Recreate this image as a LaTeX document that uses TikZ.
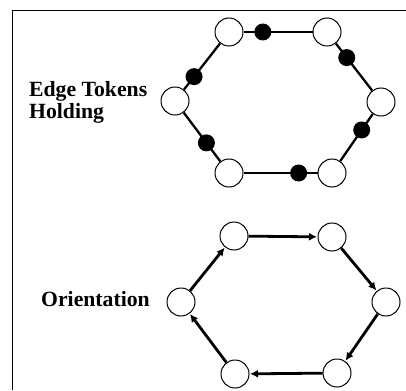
\documentclass[tikz,border=0pt]{standalone}
\usepackage{fontspec}
\setmainfont{Liberation Serif}
\usetikzlibrary{arrows.meta}
\begin{document}
\begin{tikzpicture}[x=1pt,y=-1pt,
  proc/.style={circle,draw,line width=1pt,fill=white,minimum size=28pt,inner sep=0pt},
  token/.style={circle,fill=black,minimum size=17pt,inner sep=0pt},
  link/.style={line width=2.3pt},
  orient/.style={line width=2.8pt,-{Latex[length=8pt,width=8pt]},shorten >=0.5pt},
  label/.style={font=\fontsize{21.7}{23}\selectfont\bfseries,inner sep=0pt,anchor=base west}]
\useasboundingbox (0,0) rectangle (406,390);
% frame
\draw[line width=1.3pt] (12.3,390) -- (12.3,10.5) -- (406,10.5);

% ring with tokens on edges
\node[proc] (a1) at (229,32) {};
\node[proc] (a2) at (327,32) {};
\node[proc] (a3) at (381,102) {};
\node[proc] (a4) at (332,173) {};
\node[proc] (a5) at (229,173) {};
\node[proc] (a6) at (175,101) {};
\draw[link] (a1) -- node[token,pos=0.28] (t1) {} (a2);
\draw[link] (a2) -- node[token,pos=0.30] (t2) {} (a3);
\draw[link] (a3) -- node[token,pos=0.34] (t3) {} (a4);
\draw[link] (a5) -- node[token,pos=0.745] (t4) {} (a4);
\draw[link] (a6) -- node[token,pos=0.62] (t5) {} (a5);
\draw[link] (a6) -- node[token,pos=0.28] (t6) {} (a1);
\node[label] (lab1) at (29,97) {Edge Tokens};
\node[label] (lab2) at (29,119) {Holding};

% oriented ring
\node[proc] (b1) at (234,236) {};
\node[proc] (b2) at (332,237) {};
\node[proc] (b3) at (386,302) {};
\node[proc] (b4) at (337,373) {};
\node[proc] (b5) at (235,374) {};
\node[proc] (b6) at (181,302) {};
\draw[orient] (b6) -- (b1);
\draw[orient] (b1) -- (b2);
\draw[orient] (b2) -- (b3);
\draw[orient] (b3) -- (b4);
\draw[orient] (b4) -- (b5);
\draw[orient] (b5) -- (b6);
\node[label] (lab3) at (41,306) {Orientation};
\end{tikzpicture}
\end{document}
